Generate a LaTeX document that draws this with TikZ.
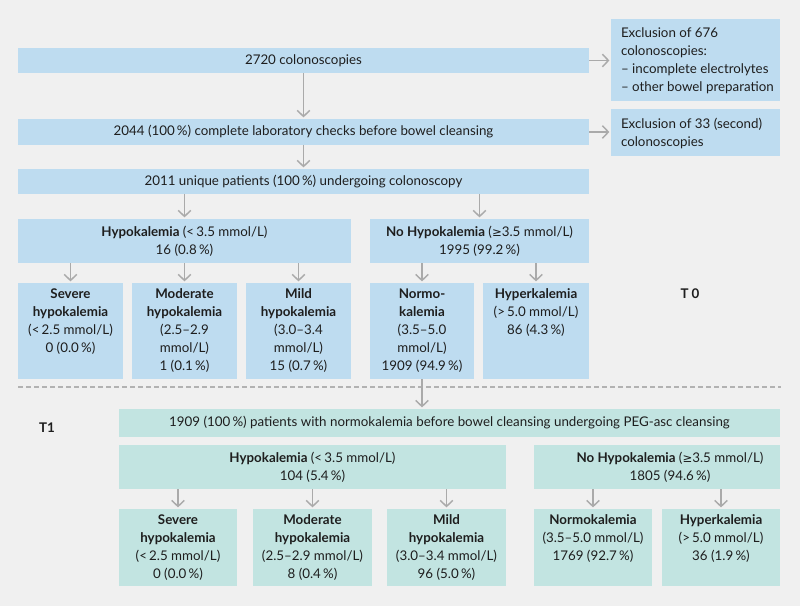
\documentclass[tikz,border=0pt]{standalone}
\usepackage{fontspec}
\setmainfont{Lato}
\newfontfamily\symf{DejaVu Sans}[Scale=0.88]
\usetikzlibrary{arrows.meta}
\definecolor{bg}{HTML}{F0F0F0}
\definecolor{bluebox}{HTML}{BEDCF0}
\definecolor{tealbox}{HTML}{C2E4E1}
\definecolor{arrgrey}{HTML}{AAAAAA}
\definecolor{txt}{HTML}{1E1E1E}
\newcommand\geqs{{\symf ≥}}
\newcommand\mybox[8]{% name, style, valign, x1, y1, x2, y2, content
  \pgfmathsetlengthmacro\bw{(#6-#4)*0.75pt}%
  \pgfmathsetlengthmacro\bh{(#7-#5)*0.75pt}%
  \node[#2, anchor=north west, inner sep=0pt, outer sep=0pt] (#1) at (#4,#5) {\parbox[c][\bh][#3]{\bw}{#8}};%
}
\tikzset{
  t0box/.style={fill=bluebox},
  t1box/.style={fill=tealbox},
  arr/.style={draw=arrgrey, line width=1.1pt, -{Straight Barb[length=4.5pt,width=9.5pt]}, shorten >=1.2pt},
  dashline/.style={draw=arrgrey!90, line width=1.1pt, dash pattern=on 4pt off 2pt},
}
\newcommand\topgap{\vspace*{4.2pt}}
\newcommand\fs{\fontsize{10pt}{13.5pt}\selectfont}
\begin{document}
\begin{tikzpicture}[x=0.75pt, y=-0.75pt, font=\fs, text=txt]
\useasboundingbox (0,0) rectangle (800,606);
\fill[bg] (0,0) rectangle (800,606);
% T0
\mybox{b1}{t0box}{c}{18}{48}{589}{73}{\centering 2720 colonoscopies}
\mybox{b2}{t0box}{c}{18}{119}{589}{145}{\centering 2044 (100\,\%) complete laboratory checks before bowel cleansing}
\mybox{b3}{t0box}{c}{18}{169}{589}{194}{\centering 2011 unique patients (100\,\%) undergoing colonoscopy}
\mybox{ex1}{t0box}{t}{611}{19}{780}{101}{\raggedright\leftskip=7.5pt\vspace*{6.5pt}Exclusion of 676\\colonoscopies:\\– incomplete electrolytes\\– other bowel preparation}
\mybox{ex2}{t0box}{t}{611}{109}{780}{156}{\raggedright\leftskip=7.5pt\vspace*{6.5pt}Exclusion of 33 (second)\\colonoscopies}
\mybox{hypo0}{t0box}{c}{18}{219}{351}{263}{\centering\textbf{Hypokalemia} (<\,3.5 mmol/L)\\16 (0.8\,\%)}
\mybox{nohypo0}{t0box}{c}{370}{219}{589}{263}{\centering\textbf{No Hypokalemia} (\geqs3.5 mmol/L)\\1995 (99.2\,\%)}
\mybox{sev0}{t0box}{t}{18}{283}{123}{379}{\centering\topgap\textbf{Severe}\\\textbf{hypokalemia}\\(<\,2.5 mmol/L)\\0 (0.0\,\%)}
\mybox{mod0}{t0box}{t}{132}{283}{237}{379}{\centering\topgap\textbf{Moderate}\\\textbf{hypokalemia}\\(2.5–2.9\\mmol/L)\\1 (0.1\,\%)}
\mybox{mild0}{t0box}{t}{246}{283}{351}{379}{\centering\topgap\textbf{Mild}\\\textbf{hypokalemia}\\(3.0–3.4\\mmol/L)\\15 (0.7\,\%)}
\mybox{norm0}{t0box}{t}{370}{283}{474}{379}{\centering\topgap\textbf{Normo-}\\\textbf{kalemia}\\(3.5–5.0\\mmol/L)\\1909 (94.9\,\%)}
\mybox{hyper0}{t0box}{t}{483}{283}{589}{379}{\centering\topgap\textbf{Hyperkalemia}\\(>\,5.0 mmol/L)\\86 (4.3\,\%)}
\node[font=\fs\bfseries] (lt0) at (690,294) {T 0};
% separator
\coordinate (dl) at (18,387);
\coordinate (dr) at (781,387);
\draw[dashline] (dl) -- (dr);
% T1
\node[font=\fs\bfseries] (lt1) at (47,428) {T1};
\mybox{top1}{t1box}{c}{119}{409}{780}{437}{\centering 1909 (100\,\%) patients with normokalemia before bowel cleansing undergoing PEG-asc cleansing}
\mybox{hypo1}{t1box}{c}{119}{445}{506}{489}{\centering\textbf{Hypokalemia} (<\,3.5 mmol/L)\\104 (5.4\,\%)}
\mybox{nohypo1}{t1box}{c}{534}{445}{780}{489}{\centering\leftskip=19.5pt plus 1fil\textbf{No Hypokalemia} (\geqs3.5 mmol/L)\\1805 (94.6\,\%)}
\mybox{sev1}{t1box}{t}{119}{509}{237}{586}{\centering\topgap\textbf{Severe}\\\textbf{hypokalemia}\\(<\,2.5 mmol/L)\\0 (0.0\,\%)}
\mybox{mod1}{t1box}{t}{253}{509}{372}{586}{\centering\topgap\textbf{Moderate}\\\textbf{hypokalemia}\\(2.5–2.9 mmol/L)\\8 (0.4\,\%)}
\mybox{mild1}{t1box}{t}{387}{509}{506}{586}{\centering\topgap\textbf{Mild}\\\textbf{hypokalemia}\\(3.0–3.4 mmol/L)\\96 (5.0\,\%)}
\mybox{norm1}{t1box}{t}{534}{509}{652}{586}{\centering\topgap\textbf{Normokalemia}\\(3.5–5.0 mmol/L)\\1769 (92.7\,\%)}
\mybox{hyper1}{t1box}{t}{662}{509}{780}{586}{\centering\topgap\textbf{Hyperkalemia}\\(>\,5.0 mmol/L)\\36 (1.9\,\%)}
% connectors T0
\draw[arr] (b1.south) -- (b2.north);
\draw[arr] (b2.south) -- (b3.north);
\draw[arr] (b1.east) -- (b1.east -| ex1.west);
\draw[arr] (b2.east) -- (b2.east -| ex2.west);
\draw[arr] (b3.south -| hypo0.north) -- (hypo0.north);
\draw[arr] (b3.south -| nohypo0.north) -- (nohypo0.north);
\draw[arr] (hypo0.south -| sev0.north) -- (sev0.north);
\draw[arr] (hypo0.south -| mod0.north) -- (mod0.north);
\draw[arr] (hypo0.south -| mild0.north) -- (mild0.north);
\draw[arr] (nohypo0.south -| norm0.north) -- (norm0.north);
\draw[arr] (nohypo0.south -| hyper0.north) -- (hyper0.north);
\draw[arr] (norm0.south) -- (norm0.south |- top1.north);
% connectors T1
\draw[arr] (hypo1.south -| sev1.north) -- (sev1.north);
\draw[arr] (hypo1.south -| mod1.north) -- (mod1.north);
\draw[arr] (hypo1.south -| mild1.north) -- (mild1.north);
\draw[arr] (nohypo1.south -| norm1.north) -- (norm1.north);
\draw[arr] (nohypo1.south -| hyper1.north) -- (hyper1.north);
\end{tikzpicture}
\end{document}
